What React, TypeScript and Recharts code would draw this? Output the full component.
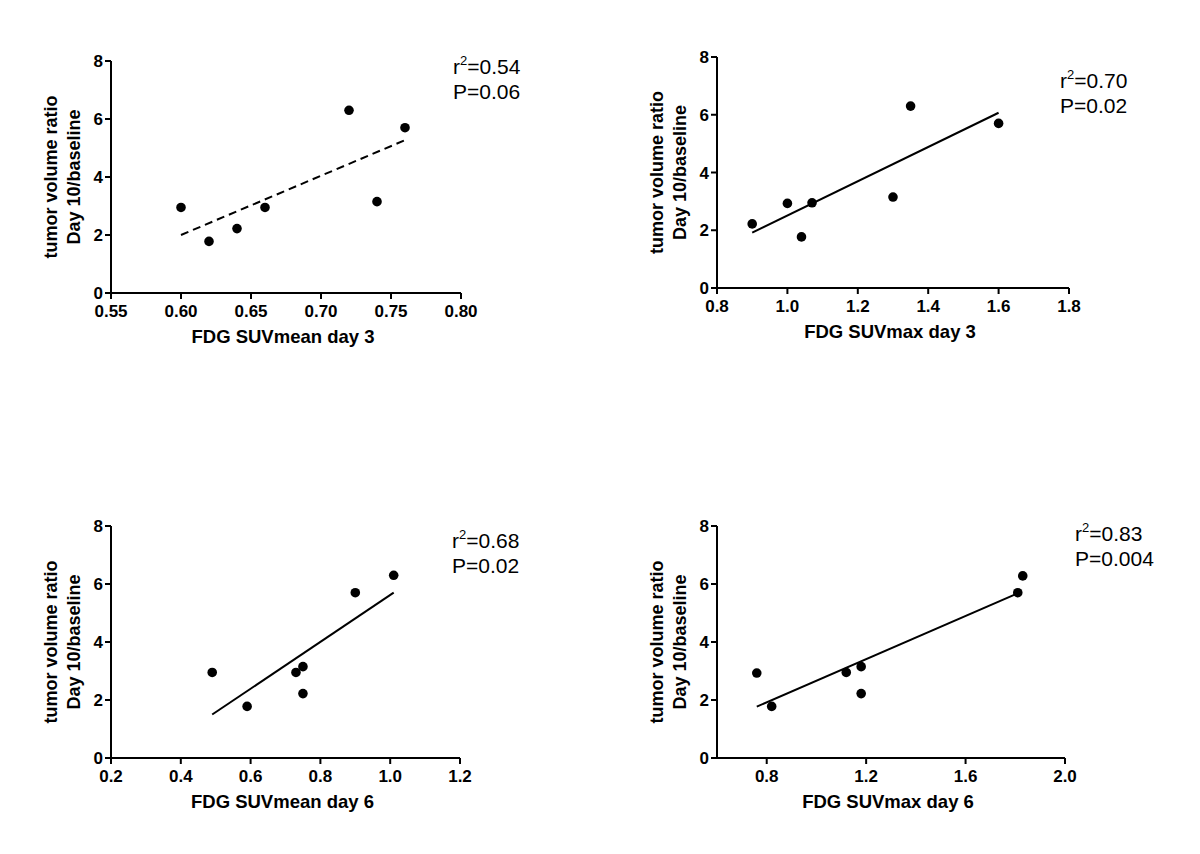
import React from 'react';
import { ScatterChart, Scatter, XAxis, YAxis } from 'recharts';

// tumor volume ratio (day 10 / baseline) against each FDG measure
const meanDay3X = [0.60, 0.62, 0.64, 0.66, 0.72, 0.74, 0.76];
const meanDay3Y = [2.95, 1.78, 2.22, 2.95, 6.30, 3.15, 5.70];
const meanDay3FitX = [0.60, 0.76];
const meanDay3FitY = [2.00, 5.27];
const meanDay3Ticks = [0.55, 0.60, 0.65, 0.70, 0.75, 0.80];

const maxDay3X = [0.90, 1.00, 1.04, 1.07, 1.30, 1.35, 1.60];
const maxDay3Y = [2.22, 2.93, 1.77, 2.95, 3.15, 6.30, 5.70];
const maxDay3FitX = [0.90, 1.60];
const maxDay3FitY = [1.92, 6.07];
const maxDay3Ticks = [0.8, 1.0, 1.2, 1.4, 1.6, 1.8];

const meanDay6X = [0.49, 0.59, 0.73, 0.75, 0.75, 0.90, 1.01];
const meanDay6Y = [2.95, 1.78, 2.95, 3.15, 2.22, 5.70, 6.30];
const meanDay6FitX = [0.49, 1.01];
const meanDay6FitY = [1.50, 5.70];
const meanDay6Ticks = [0.2, 0.4, 0.6, 0.8, 1.0, 1.2];

const maxDay6X = [0.76, 0.82, 1.12, 1.18, 1.18, 1.81, 1.83];
const maxDay6Y = [2.93, 1.78, 2.95, 3.15, 2.22, 5.70, 6.28];
const maxDay6FitX = [0.76, 1.80];
const maxDay6FitY = [1.77, 5.64];
const maxDay6Ticks = [0.8, 1.2, 1.6, 2.0];

const yTicks = [0, 2, 4, 6, 8];

const PAD_T = 40;
const PAD_R = 20;
const PAD_L = 111;
const PAD_B = 70;

const FONT = '"Liberation Sans", Arial, Helvetica, sans-serif';

const tickStyle = { fill: '#000', fontSize: 17, fontWeight: 700, fontFamily: FONT };
const axisStroke = { stroke: '#000', strokeWidth: 2 };

const Dot = (props: any) => <circle cx={props.cx} cy={props.cy} r={4.8} fill="#000" />;
const NoDot = () => <g />;

const YTitle = (props: any) => {
  const vb = props.viewBox;
  const ax = vb.x + vb.width;
  const cy = vb.y + vb.height / 2;
  const common = { textAnchor: 'middle' as const, fontSize: 18, fontWeight: 700, fill: '#000', fontFamily: FONT };
  return (
    <g>
      <text x={ax - 54} y={cy} transform={`rotate(-90 ${ax - 54} ${cy})`} {...common}>tumor volume ratio</text>
      <text x={ax - 31} y={cy} transform={`rotate(-90 ${ax - 31} ${cy})`} {...common}>Day 10/baseline</text>
    </g>
  );
};

const xTitle = (title: string) => (props: any) => {
  const vb = props.viewBox;
  return (
    <text x={vb.x + vb.width / 2 - 3} y={vb.y + 50} textAnchor="middle" fontSize={18.5} fontWeight={700} fill="#000" fontFamily={FONT}>
      {title}
    </text>
  );
};

interface PanelProps {
  box: { left: number; top: number; right: number; bottom: number };
  xs: number[];
  ys: number[];
  fitX: number[];
  fitY: number[];
  xDomain: [number, number];
  xTicks: number[];
  digits: number;
  title: string;
  dashed?: boolean;
}

const Panel = ({ box, xs, ys, fitX, fitY, xDomain, xTicks, digits, title, dashed }: PanelProps) => {
  const points = xs.map((x, i) => ({ x, y: ys[i] }));
  const fit = fitX.map((x, i) => ({ x, y: fitY[i] }));
  const w = box.right - box.left + PAD_L + PAD_R;
  const h = box.bottom - box.top + PAD_T + PAD_B;
  return (
    <div style={{ position: 'absolute', left: box.left - PAD_L, top: box.top - PAD_T }}>
      <ScatterChart width={w} height={h} margin={{ top: PAD_T, right: PAD_R, left: PAD_L - 60, bottom: PAD_B - 30 }}>
        <XAxis
          type="number"
          dataKey="x"
          domain={xDomain}
          ticks={xTicks}
          allowDataOverflow
          tickFormatter={(v: number) => v.toFixed(digits)}
          axisLine={axisStroke}
          tickLine={axisStroke}
          tickSize={6}
          tickMargin={6}
          tick={tickStyle}
          height={30}
          label={{ content: xTitle(title) }}
        />
        <YAxis
          type="number"
          dataKey="y"
          domain={[0, 8]}
          ticks={yTicks}
          allowDataOverflow
          axisLine={axisStroke}
          tickLine={axisStroke}
          tickSize={6}
          tickMargin={2}
          tick={tickStyle}
          width={60}
          label={{ content: YTitle }}
        />
        <Scatter
          data={fit}
          shape={NoDot}
          line={{ stroke: '#000', strokeWidth: 2, strokeDasharray: dashed ? '8 5' : undefined }}
          isAnimationActive={false}
        />
        <Scatter data={points} shape={Dot} isAnimationActive={false} />
      </ScatterChart>
    </div>
  );
};

const Stat = ({ x, y, r2, p }: { x: number; y: number; r2: string; p: string }) => (
  <g fontFamily={FONT} fill="#000" fontSize={21}>
    <text x={x} y={y}>
      r<tspan fontSize={13} dy={-9}>2</tspan>
      <tspan dy={9}>={r2}</tspan>
    </text>
    <text x={x} y={y + 25}>P={p}</text>
  </g>
);

export default function App() {
  return (
    <div style={{ position: 'absolute', left: 0, top: 0, width: 1200, height: 854, background: '#fff', fontFamily: FONT }}>
      <Panel
        box={{ left: 111, top: 61, right: 461, bottom: 293 }}
        xs={meanDay3X} ys={meanDay3Y} fitX={meanDay3FitX} fitY={meanDay3FitY}
        xDomain={[0.55, 0.8]} xTicks={meanDay3Ticks} digits={2}
        title="FDG SUVmean day 3" dashed
      />
      <Panel
        box={{ left: 717, top: 57, right: 1069, bottom: 288 }}
        xs={maxDay3X} ys={maxDay3Y} fitX={maxDay3FitX} fitY={maxDay3FitY}
        xDomain={[0.8, 1.8]} xTicks={maxDay3Ticks} digits={1}
        title="FDG SUVmax day 3"
      />
      <Panel
        box={{ left: 111, top: 526, right: 460, bottom: 758 }}
        xs={meanDay6X} ys={meanDay6Y} fitX={meanDay6FitX} fitY={meanDay6FitY}
        xDomain={[0.2, 1.2]} xTicks={meanDay6Ticks} digits={1}
        title="FDG SUVmean day 6"
      />
      <Panel
        box={{ left: 717, top: 526, right: 1065, bottom: 758 }}
        xs={maxDay6X} ys={maxDay6Y} fitX={maxDay6FitX} fitY={maxDay6FitY}
        xDomain={[0.6, 2.0]} xTicks={maxDay6Ticks} digits={1}
        title="FDG SUVmax day 6"
      />
      <svg width={1200} height={854} style={{ position: 'absolute', left: 0, top: 0, pointerEvents: 'none' }}>
        <Stat x={453} y={74} r2="0.54" p="0.06" />
        <Stat x={1060} y={88} r2="0.70" p="0.02" />
        <Stat x={452} y={548} r2="0.68" p="0.02" />
        <Stat x={1075} y={541} r2="0.83" p="0.004" />
      </svg>
    </div>
  );
}
